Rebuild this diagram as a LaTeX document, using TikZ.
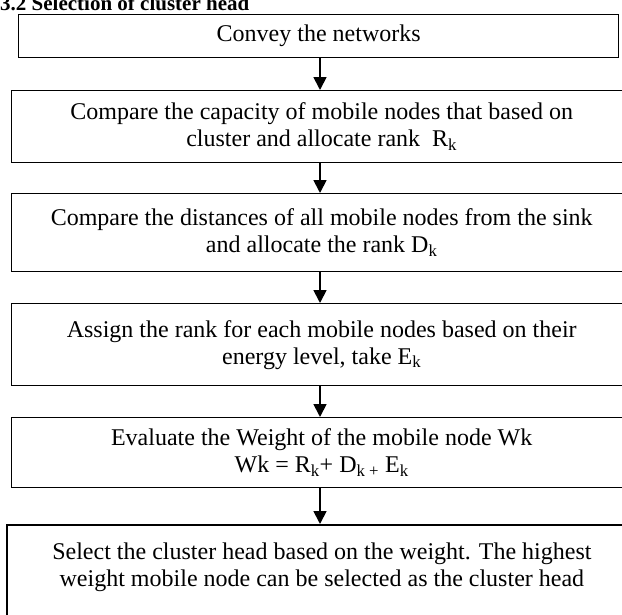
\documentclass[tikz,border=0pt]{standalone}
\usepackage{fontspec}
\setmainfont{Liberation Serif}
\usetikzlibrary{arrows.meta}
\tikzset{
  stepbox/.style={draw=black, line width=1.4pt, rectangle, anchor=north west,
    inner sep=0pt, align=center, font=\fontsize{24}{27}\selectfont},
  flowarrow/.style={line width=1.8pt, -{Triangle[width=13pt,length=13pt]}}
}
\begin{document}
\begin{tikzpicture}[x=1pt,y=-1pt]
\useasboundingbox (0,0) rectangle (622,614);
\clip (0,0) rectangle (622,614);
\node[anchor=base west, inner sep=0pt, font=\fontsize{21}{25}\selectfont\bfseries] (title) at (0,10) {3.2 Selection of cluster head};
\node[stepbox, minimum width=600pt, minimum height=43pt] (b1) at (18,14) {Convey the networks};
\node[stepbox, minimum width=620pt, minimum height=72pt] (b2) at (11,90) {Compare the capacity of mobile nodes that based on\\cluster and allocate rank~ R\textsubscript{k}};
\node[stepbox, minimum width=620pt, minimum height=78pt] (b3) at (11,193) {Compare the distances of all mobile nodes from the sink\\and allocate the rank D\textsubscript{k}};
\node[stepbox, minimum width=620pt, minimum height=82pt] (b4) at (11,303) {Assign the rank for each mobile nodes based on their\\energy level, take E\textsubscript{k}};
\node[stepbox, minimum width=620pt, minimum height=70pt] (b5) at (11,417) {Evaluate the Weight of the mobile node Wk\\Wk = R\textsubscript{k}+ D\textsubscript{k +} E\textsubscript{k}};
\node[stepbox, line width=1.8pt, minimum width=630pt, minimum height=106pt] (b6) at (6,524) {Select the cluster head based on the weight. The highest\\weight mobile node can be selected as the cluster head\\\mbox{}};
\draw[flowarrow] (b1.south -| 320,0) -- (b2.north -| 320,0);
\draw[flowarrow] (b2.south -| 320,0) -- (b3.north -| 320,0);
\draw[flowarrow] (b3.south -| 320,0) -- (b4.north -| 320,0);
\draw[flowarrow] (b4.south -| 320,0) -- (b5.north -| 320,0);
\draw[flowarrow] (b5.south -| 320,0) -- (b6.north -| 320,0);
\end{tikzpicture}
\end{document}
